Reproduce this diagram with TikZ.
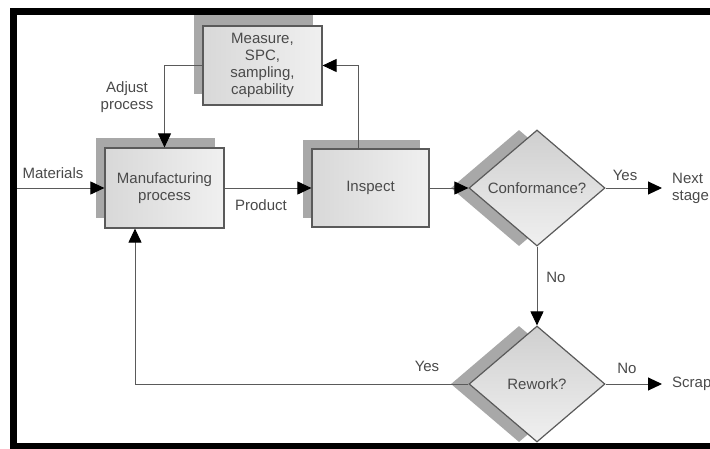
\documentclass[tikz,border=0pt]{standalone}
\usepackage{fontspec}
\setmainfont{Liberation Sans}
\usetikzlibrary{shapes.geometric,arrows.meta}
\definecolor{txt}{HTML}{4A4A4A}
\definecolor{edge}{HTML}{5A5A5A}
\definecolor{shad}{HTML}{A8A8A8}
\definecolor{boxA}{HTML}{D8D8D8}
\definecolor{boxB}{HTML}{F0F0F0}
\tikzset{
  lbl/.style={text=txt,font=\fontsize{15}{17}\selectfont,inner sep=0pt,align=center},
  boxnode/.style={draw=edge,line width=1.2pt,left color=boxA,right color=boxB,
    minimum width=#1,text=txt,font=\fontsize{15}{17}\selectfont,align=center,inner sep=0pt},
  boxshadow/.style={fill=shad,minimum width=#1,inner sep=0pt},
  dia/.style={diamond,draw=edge,line width=1.2pt,top color=boxA!90!gray,bottom color=boxB,
    minimum width=136pt,minimum height=116pt,aspect=1.17,inner sep=0pt,
    text=txt,font=\fontsize{15}{17}\selectfont},
  diashadow/.style={diamond,fill=shad,minimum width=136pt,minimum height=116pt,aspect=1.17,inner sep=0pt},
  conn/.style={draw=edge,line width=1pt},
  arr/.style={conn,-{Triangle[length=14pt,width=13pt,color=black]}}
}
\begin{document}
\begin{tikzpicture}[x=1pt,y=-1pt]
\useasboundingbox (0,0) rectangle (710,448);
\clip (0,0) rectangle (710,448);
\fill[white] (0,0) rectangle (710,448);
% frame
\fill[black] (10,8) rectangle (712,450);
\fill[white] (17,15) rectangle (712,443);
% shadows
\node[boxshadow=119pt,minimum height=79pt] at (253.5,54.5) {};
\node[boxshadow=119pt,minimum height=80pt] at (155.5,178) {};
\node[boxshadow=117pt,minimum height=78pt] at (361.5,179) {};
\node[diashadow] at (519,188) {};
\node[diashadow] at (519,384) {};
% nodes
\node[boxnode=119pt,minimum height=79pt] (meas) at (262.5,65.5) {Measure,\\SPC,\\sampling,\\capability};
\node[boxnode=119pt,minimum height=80pt] (mfg) at (164.5,188) {Manufacturing\\process};
\node[boxnode=117pt,minimum height=78pt] (insp) at (370.5,188) {Inspect};
\node[dia] (conf) at (537,188) {Conformance?};
\node[dia] (rew) at (537,384) {Rework?};
\coordinate (matin) at (17,188);
\coordinate (next) at (662,188);
\coordinate (scrap) at (662,384);
% connectors
\draw[arr] (matin) -- (mfg.west);
\draw[arr] (mfg.east) -- (insp.west);
\draw[arr] (insp.east) -- (conf.west);
\draw[arr] (conf.east) -- (next);
\draw[arr] (conf.south) -- (rew.north);
\draw[arr] (rew.east) -- (scrap);
\draw[arr] (rew.west) -| ([xshift=-29.5pt]mfg.south);
\draw[arr] ([xshift=-12.5pt]insp.north) |- (meas.east);
\draw[arr] (meas.west) -| (mfg.north);
% labels
\node[lbl] (lmat) at (53,173) {Materials};
\node[lbl] (lprod) at (261,205) {Product};
\node[lbl] (ladj) at (127,97) {Adjust\\process};
\node[lbl] (lyes1) at (625,175) {Yes};
\node[lbl,anchor=west,align=left] (lnext) at (672,188) {Next\\stage};
\node[lbl] (lno1) at (556,277) {No};
\node[lbl] (lno2) at (627,368) {No};
\node[lbl] (lyes2) at (427,366) {Yes};
\node[lbl,anchor=west] (lscrap) at (672,384) {Scrap};
\end{tikzpicture}
\end{document}
